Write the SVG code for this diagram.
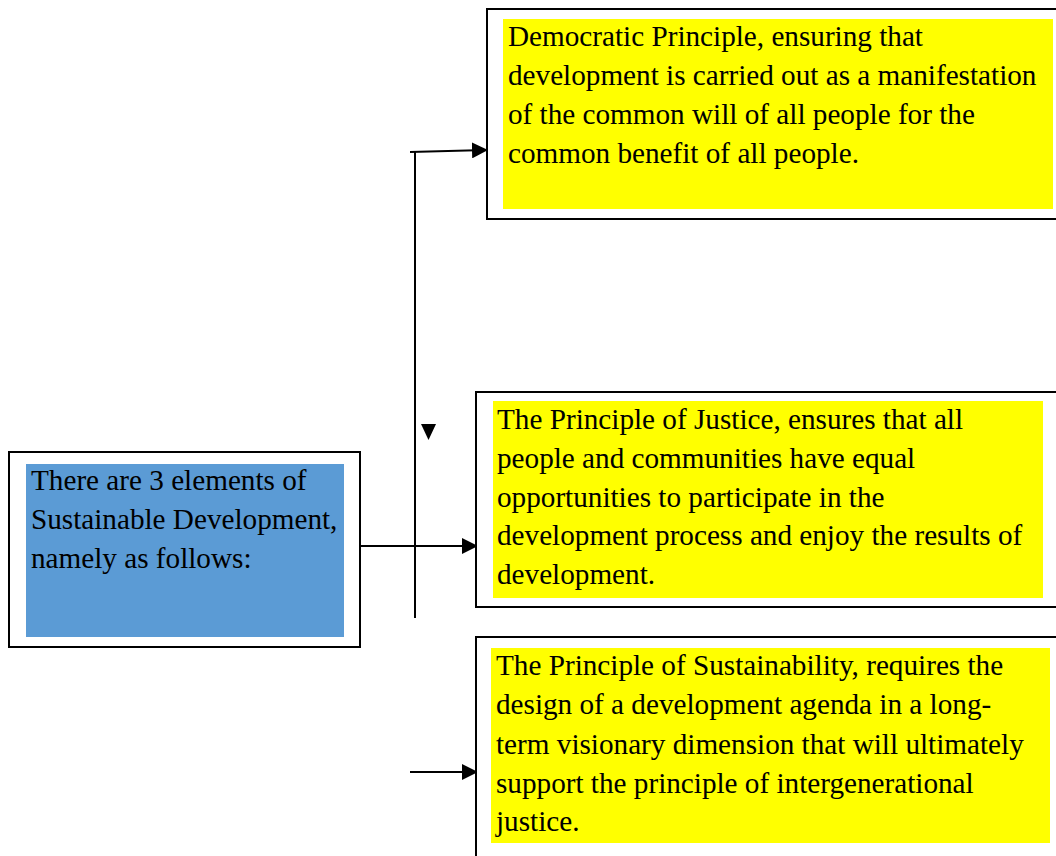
<svg xmlns="http://www.w3.org/2000/svg" width="1056" height="856" viewBox="0 0 1056 856">
<style>
.frame{fill:#fff;stroke:#000;stroke-width:2}
.yel{fill:#ffff00}
.blue{fill:#5b9bd5}
.t{font-family:"Liberation Serif","Times New Roman",serif;font-size:29.2px;fill:#000}
.c{stroke:#000;stroke-width:2;fill:none}
</style>
<defs>
<marker id="ah" markerWidth="8" markerHeight="8" refX="7" refY="4" orient="auto" markerUnits="strokeWidth">
<path d="M0,0 L8,4 L0,8 Z" fill="#000"/>
</marker>
</defs>
<g id="connectors">
<line class="c" x1="415" y1="152" x2="415" y2="618"/>
<line class="c" x1="410" y1="152" x2="486" y2="150" marker-end="url(#ah)"/>
<path d="M421,424 L436,424 L428.5,440 Z" fill="#000"/>
<line class="c" x1="360" y1="546" x2="476" y2="546" marker-end="url(#ah)"/>
<line class="c" x1="410" y1="772" x2="476" y2="772" marker-end="url(#ah)"/>
</g>
<g id="node-top">
<rect class="frame" x="487" y="9" width="575" height="210"/>
<rect class="yel" x="503" y="19" width="550" height="190"/>
<text class="t"><tspan x="508" y="46">Democratic Principle, ensuring that</tspan><tspan x="508" y="85">development is carried out as a manifestation</tspan><tspan x="508" y="124">of the common will of all people for the</tspan><tspan x="508" y="163">common benefit of all people.</tspan></text>
</g>
<g id="node-justice">
<rect class="frame" x="476" y="392" width="586" height="215"/>
<rect class="yel" x="493" y="401" width="550" height="197"/>
<text class="t"><tspan x="497" y="429">The Principle of Justice, ensures that all</tspan><tspan x="497" y="468">people and communities have equal</tspan><tspan x="497" y="507">opportunities to participate in the</tspan><tspan x="497" y="545">development process and enjoy the results of</tspan><tspan x="497" y="584">development.</tspan></text>
</g>
<g id="node-sustain">
<rect class="frame" x="476" y="637" width="586" height="230"/>
<rect class="yel" x="491" y="648" width="559" height="195"/>
<text class="t"><tspan x="496" y="675">The Principle of Sustainability, requires the</tspan><tspan x="496" y="714">design of a development agenda in a long-</tspan><tspan x="496" y="754">term visionary dimension that will ultimately</tspan><tspan x="496" y="793">support the principle of intergenerational</tspan><tspan x="496" y="831">justice.</tspan></text>
</g>
<g id="node-main">
<rect class="frame" x="9" y="452" width="351" height="195"/>
<rect class="blue" x="26" y="464" width="318" height="173"/>
<text class="t"><tspan x="31" y="490">There are 3 elements of</tspan><tspan x="31" y="529">Sustainable Development,</tspan><tspan x="31" y="568">namely as follows:</tspan></text>
</g>
</svg>
